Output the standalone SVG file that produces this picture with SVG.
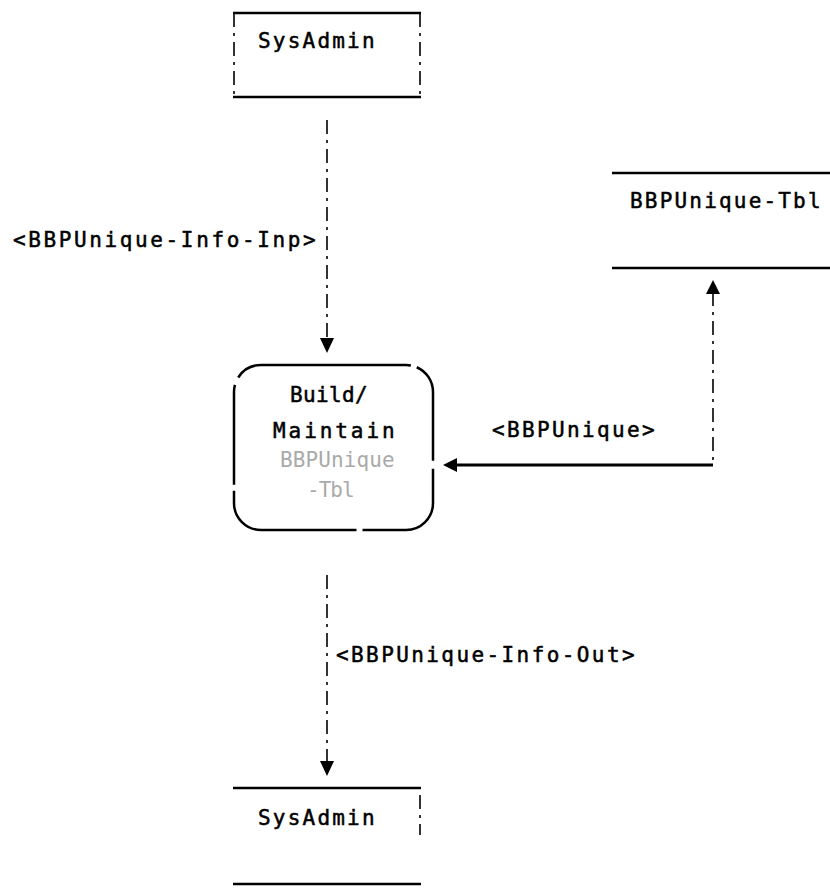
<svg xmlns="http://www.w3.org/2000/svg" width="830" height="888" viewBox="0 0 830 888">
<defs>
<style>
text{font-family:"DejaVu Sans Mono","Liberation Mono",monospace;font-size:21px;letter-spacing:2.4px;fill:#000;stroke:#000;stroke-width:0.5}
.s{stroke:#000;stroke-width:2.5;fill:none}
.d{stroke:#000;stroke-width:1.6;fill:none;stroke-dasharray:14 6 3 6}
text.faint{fill:#aaa;stroke:none}
</style>
</defs>
<rect width="830" height="888" fill="#fff"/>
<g id="sysadmin-top">
<line class="s" x1="233" y1="13" x2="421" y2="13"/>
<line class="s" x1="233" y1="97" x2="421" y2="97"/>
<line class="d" x1="234" y1="13" x2="234" y2="97"/>
<line class="d" x1="420" y1="13" x2="420" y2="97"/>
<text x="258" y="48" textLength="119">SysAdmin</text>
</g>
<g id="bbpunique-tbl">
<line class="s" x1="612" y1="173" x2="830" y2="173"/>
<line class="s" x1="612" y1="268" x2="830" y2="268"/>
<text x="630" y="208" textLength="193">BBPUnique-Tbl</text>
</g>
<g id="process">
<rect x="234" y="365" width="199" height="165" rx="27" ry="27" class="s" stroke-dasharray="150 6 100 8 120 6"/>
<text x="290" y="402" textLength="80">Build/</text>
<text x="273" y="438" textLength="124">Maintain</text>
<text x="280" y="467" class="faint" textLength="117">BBPUnique</text>
<text x="307" y="497" class="faint" textLength="50">-Tbl</text>
</g>
<g id="sysadmin-bottom">
<line class="s" x1="233" y1="788" x2="421" y2="788"/>
<line class="s" x1="233" y1="884" x2="421" y2="884"/>
<line class="d" x1="420" y1="795" x2="420" y2="835"/>
<text x="258" y="825" textLength="119">SysAdmin</text>
</g>
<g id="connectors">
<line class="d" x1="327" y1="120" x2="327" y2="340"/>
<path d="M320,338 L334,338 L327,353 z" fill="#000"/>
<text x="13" y="247" textLength="305">&lt;BBPUnique-Info-Inp&gt;</text>
<line class="d" x1="713" y1="292" x2="713" y2="464"/>
<path d="M706,294 L720,294 L713,280 z" fill="#000"/>
<line x1="713" y1="465" x2="452" y2="465" stroke="#000" stroke-width="3"/>
<path d="M457,458 L457,472 L443,465 z" fill="#000"/>
<text x="492" y="437" textLength="165">&lt;BBPUnique&gt;</text>
<line class="d" x1="327" y1="575" x2="327" y2="763"/>
<path d="M320,761 L334,761 L327,776 z" fill="#000"/>
<text x="336" y="662" textLength="301">&lt;BBPUnique-Info-Out&gt;</text>
</g>
</svg>
